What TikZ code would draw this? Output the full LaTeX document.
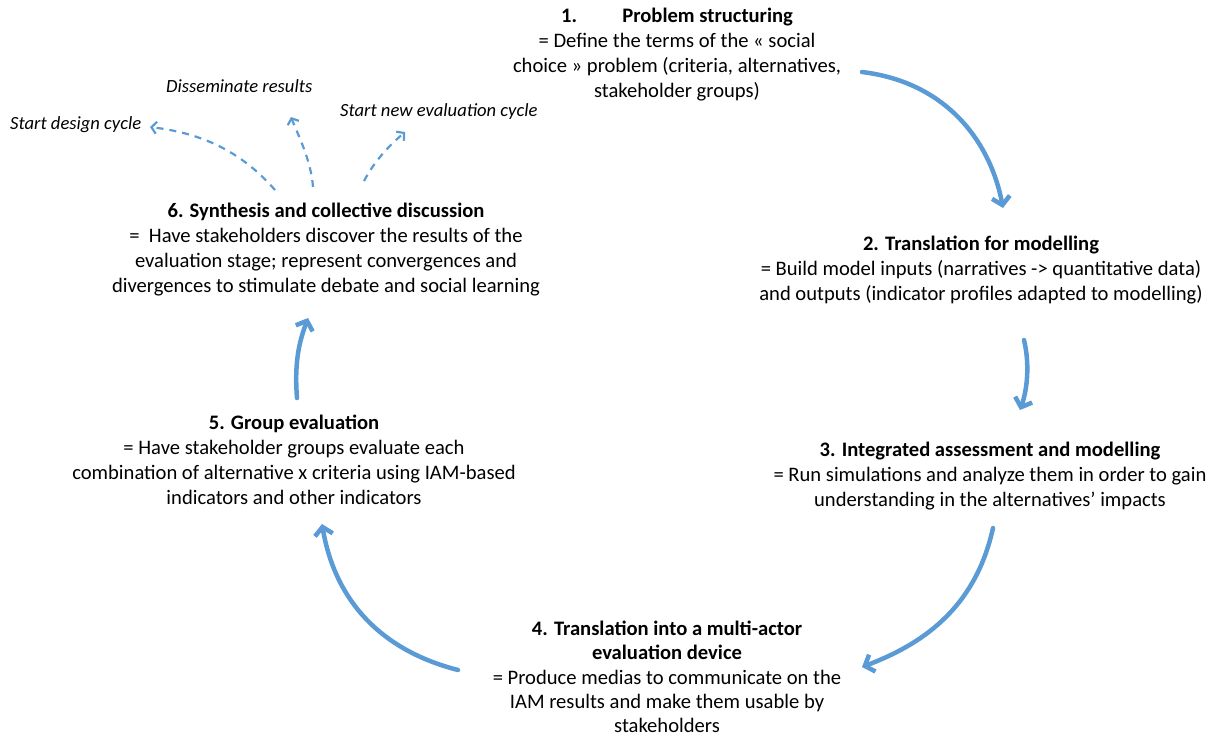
\documentclass[tikz,border=0pt]{standalone}
\usepackage{fontspec}
\setmainfont{Carlito}
\usetikzlibrary{arrows.meta}
\definecolor{arrblue}{RGB}{91,155,213}
\begin{document}
\begin{tikzpicture}[x=1pt,y=-1pt,
  txt/.style={align=center, font=\fontsize{20.6}{24.8}\selectfont, inner sep=0pt, anchor=north},
  lbl/.style={font=\fontsize{18.6}{20}\selectfont\itshape, inner sep=0pt, anchor=west},
  bigarrow/.style={draw=arrblue, line width=4.5pt, line cap=round, -{Straight Barb[length=8pt,width=18pt,line width=4.5pt]}},
  dasharrow/.style={draw=arrblue, line width=2.2pt, dash pattern=on 7pt off 6pt, -{Straight Barb[length=5pt,width=12pt,line width=2.2pt]}}
]
\useasboundingbox (0,0) rectangle (1226,737);

\node[txt] (n1) at (677,8) {\textbf{1.\hspace{2.2em}Problem structuring}\\= Define the terms of the « social\\choice » problem (criteria, alternatives,\\stakeholder groups)};
\node[txt] (n2) at (981,236) {\textbf{2. Translation for modelling}\\= Build model inputs (narratives -> quantitative data)\\and outputs (indicator profiles adapted to modelling)};
\node[txt] (n3) at (990,442) {\textbf{3. Integrated assessment and modelling}\\= Run simulations and analyze them in order to gain\\understanding in the alternatives’ impacts};
\node[txt, font=\fontsize{20.6}{24.2}\selectfont] (n4) at (667,621) {\textbf{4. Translation into a multi-actor}\\\textbf{evaluation device}\\= Produce medias to communicate on the\\IAM results and make them usable by\\stakeholders};
\node[txt] (n5) at (294,415) {\textbf{5. Group evaluation}\\= Have stakeholder groups evaluate each\\combination of alternative x criteria\ using IAM-based\\indicators and other indicators};
\node[txt] (n6) at (326,203) {\textbf{6. Synthesis and collective discussion}\\=\ \ Have stakeholders discover the results of the\\evaluation stage; represent convergences and\\divergences to stimulate debate and social learning};

\node[lbl] (l1) at (10,125) {Start design cycle};
\node[lbl] (l2) at (166,86) {Disseminate results};
\node[lbl] (l3) at (340,112) {Start new evaluation cycle};

\coordinate (a1s) at (862,72);  \coordinate (a1e) at (1003,208);
\coordinate (a2s) at (1024,340); \coordinate (a2e) at (1020,410);
\coordinate (a3s) at (993,528); \coordinate (a3e) at (862,667);
\coordinate (a4s) at (458,670); \coordinate (a4e) at (322,524);
\coordinate (a5s) at (297,398); \coordinate (a5e) at (308,318);

\draw[bigarrow] (a1s) .. controls (945,82) and (990,140) .. (a1e);
\draw[bigarrow] (a2s) .. controls (1030,365) and (1027,390) .. (a2e);
\draw[bigarrow] (a3s) .. controls (975,610) and (920,645) .. (a3e);
\draw[bigarrow] (a4s) .. controls (380,650) and (335,600) .. (a4e);
\draw[bigarrow] (a5s) .. controls (294,360) and (300,340) .. (a5e);

\coordinate (d1s) at (275,190); \coordinate (d1e) at (150,127);
\coordinate (d2s) at (313,187); \coordinate (d2e) at (291,117);
\coordinate (d3s) at (364,181); \coordinate (d3e) at (405,132);
\draw[dasharrow] (d1s) .. controls (240,150) and (200,133) .. (d1e);
\draw[dasharrow] (d2s) .. controls (311,160) and (298,135) .. (d2e);
\draw[dasharrow] (d3s) .. controls (375,160) and (390,145) .. (d3e);
\end{tikzpicture}
\end{document}
